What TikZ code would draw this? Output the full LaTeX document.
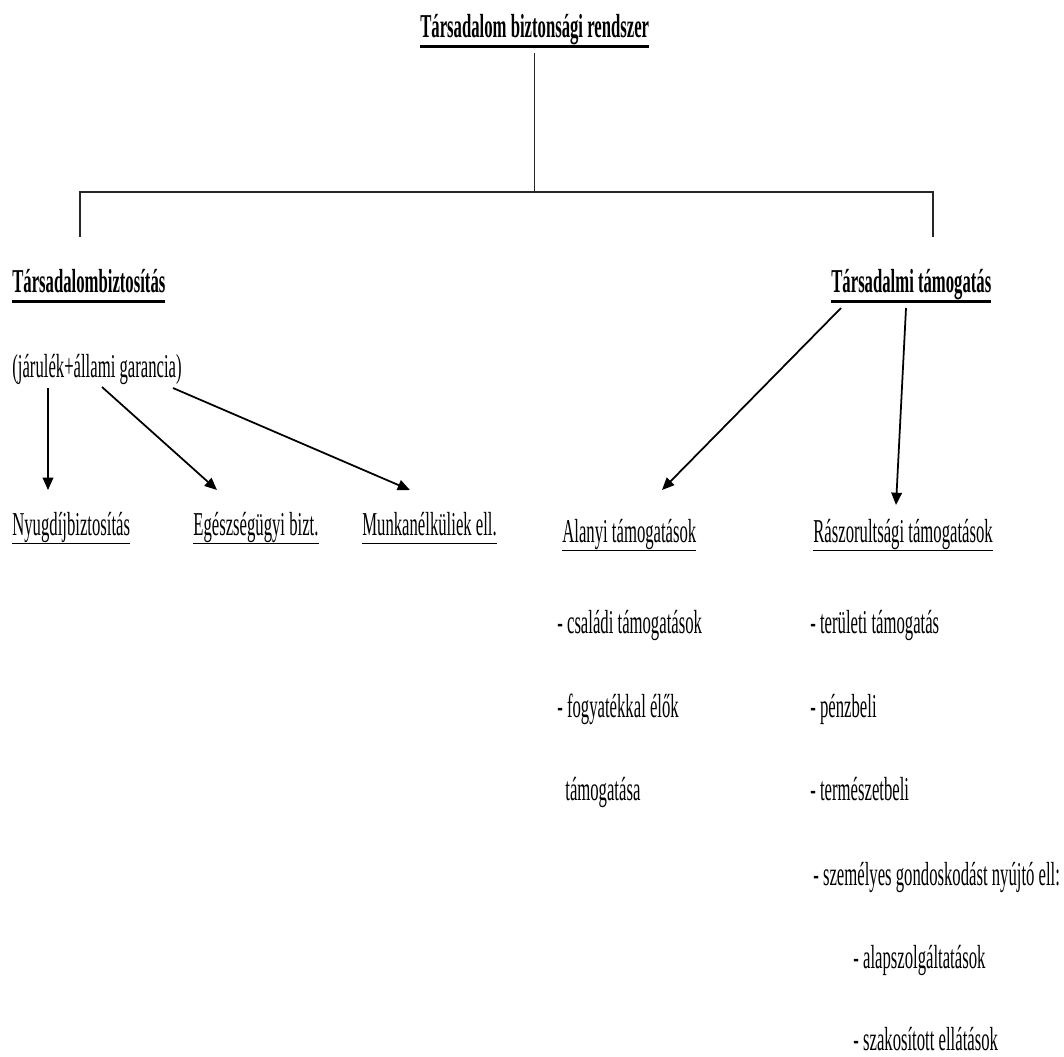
\documentclass[tikz,border=0pt]{standalone}
\usepackage{fontspec}
\setmainfont[FakeStretch=0.5]{Liberation Serif}
\usepackage{tikz}
\usetikzlibrary{calc,arrows.meta}
\newcommand\ulbold[1]{\setbox0\hbox{\bfseries #1}\rlap{\rule[-0.32em]{\wd0}{1.5pt}}\box0}
\newcommand\ulthin[1]{\setbox0\hbox{#1}\rlap{\rule[-0.27em]{\wd0}{0.8pt}}\box0}
\tikzset{
	txt/.style={inner sep=0pt, anchor=base west, font=\fontsize{19pt}{22pt}\selectfont},
	ln/.style={line width=0.8pt, color=black!85},
	arr/.style={line width=1pt, -{Triangle[length=7pt,width=6pt]}}
}

\begin{document}
\begin{tikzpicture}[x=0.02cm, y=-0.02cm]
			%%%%% START %%%%%
			\useasboundingbox (0, 0) rectangle (1064, 1056);
			
			\node[txt] (tsb) at (420, 37) {\ulbold{Társadalom biztonsági rendszer}};
			
			\coordinate (barL) at (80, 192);
			\coordinate (barR) at (933, 192);
			\coordinate (dropL) at (80, 237);
			\coordinate (dropR) at (933, 237);
			\draw[ln] ([yshift=-3pt]tsb.south) -- (tsb.south |- barL);
			\draw[ln] (dropL) -- (barL) -- (barR) -- (dropR);
			
			\node[txt] (tb) at (12, 292) {\ulbold{Társadalombiztosítás}};
			\node[txt] (gar) at (12, 377) {(járulék+állami garancia)};
			\node[txt] (tt) at (831, 292) {\ulbold{Társadalmi támogatás}};
			
			\node[txt] (nyu) at (12, 535) {\ulthin{Nyugdíjbiztosítás}};
			\node[txt] (egesz) at (193, 535) {\ulthin{Egészségügyi bizt.}};
			\node[txt] (munka) at (362, 535) {\ulthin{Munkanélküliek ell.}};
			\node[txt] (alanyi) at (562, 542) {\ulthin{Alanyi támogatások}};
			\node[txt] (rasz) at (813, 542) {\ulthin{Rászorultsági támogatások}};
			
			\draw[arr] ($(gar.base west)+(36, 11)$) -- ($(nyu.base west)+(36, -45)$);
			\draw[arr] ($(gar.base west)+(90, 10)$) -- ($(egesz.base west)+(24, -45)$);
			\draw[arr] ($(gar.base east)+(-9, 11)$) -- ($(munka.base west)+(48, -45)$);
			\draw[arr] ($(tt.base west)+(10, 16)$) -- ($(alanyi.base west)+(100, -52)$);
			\draw[arr] ($(tt.base west)+(75, 16)$) -- ($(rasz.base west)+(83, -37)$);
			
			\node[txt] (csal) at (557, 633) {- családi támogatások};
			\node[txt] (fogy) at (557, 717) {- fogyatékkal élők};
			\node[txt] (fogy2) at (565, 800) {támogatása};
			
			\node[txt] (ter) at (810, 633) {- területi támogatás};
			\node[txt] (penz) at (810, 717) {- pénzbeli};
			\node[txt] (term) at (810, 800) {- természetbeli};
			\node[txt] (szem) at (813, 885) {- személyes gondoskodást nyújtó ell:};
			\node[txt] (alap) at (853, 968) {- alapszolgáltatások};
			\node[txt] (szak) at (853, 1050) {- szakosított ellátások};
			
			%%%%% END %%%%%
		\end{tikzpicture}
\end{document}
